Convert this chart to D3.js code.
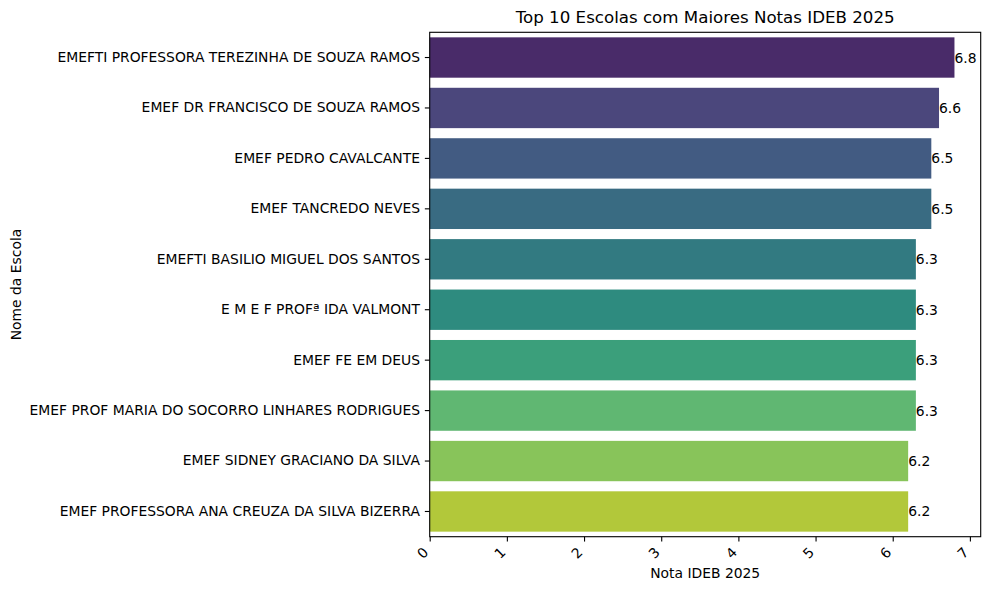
<!DOCTYPE html>
<html lang="en">
<head>
    <meta charset="UTF-8">
    <title>Top 10 Escolas IDEB 2025</title>
    <script src="https://d3js.org/d3.v7.min.js"></script>
    <style>
        body { margin: 0; background: #fff; overflow: hidden; }
        svg { display: block; }
        svg text { font-family: "DejaVu Sans", sans-serif; fill: #000; }
    </style>
</head>
<body>
    <div id="chart"></div>
    <script>
        const schools = [
            "EMEFTI PROFESSORA TEREZINHA DE SOUZA RAMOS",
            "EMEF DR FRANCISCO DE SOUZA RAMOS",
            "EMEF PEDRO CAVALCANTE",
            "EMEF TANCREDO NEVES",
            "EMEFTI BASILIO MIGUEL DOS SANTOS",
            "E M E F PROFª IDA VALMONT",
            "EMEF FE EM DEUS",
            "EMEF PROF MARIA DO SOCORRO LINHARES RODRIGUES",
            "EMEF SIDNEY GRACIANO DA SILVA",
            "EMEF PROFESSORA ANA CREUZA DA SILVA BIZERRA"
        ];
        const scores = [6.8, 6.6, 6.5, 6.5, 6.3, 6.3, 6.3, 6.3, 6.2, 6.2];
        const xTicks = [0, 1, 2, 3, 4, 5, 6, 7];

        const width = 989;
        const height = 590;
        const margin = { top: 32.3, right: 8.3, bottom: 53.3, left: 429.7 };
        const innerWidth = width - margin.left - margin.right;
        const innerHeight = height - margin.top - margin.bottom;
        const fs = "13.89px";
        const tick = 4.86;

        const data = schools.map((name, i) => ({ name, score: scores[i] }));

        // seaborn-style viridis palette, desaturated to 0.75
        const colors = schools.map((_, i) => {
            const c = d3.hsl(d3.interpolateViridis((i + 1) / (schools.length + 1)));
            c.s *= 0.75;
            return c.formatHex();
        });

        const x = d3.scaleLinear()
            .domain([0, d3.max(scores) * 1.05])
            .range([0, innerWidth]);

        const y = d3.scaleBand()
            .domain(schools)
            .range([0, innerHeight])
            .paddingInner(0.2)
            .paddingOuter(0.1);

        const svg = d3.select("#chart")
            .append("svg")
            .attr("width", width)
            .attr("height", height);

        const g = svg.append("g")
            .attr("transform", `translate(${margin.left}, ${margin.top})`);

        g.selectAll("rect.bar")
            .data(data)
            .join("rect")
            .attr("class", "bar")
            .attr("x", 0)
            .attr("y", d => y(d.name))
            .attr("width", d => x(d.score))
            .attr("height", y.bandwidth())
            .attr("fill", (d, i) => colors[i]);

        g.selectAll("text.value")
            .data(data)
            .join("text")
            .attr("class", "value")
            .attr("x", d => x(d.score))
            .attr("y", d => y(d.name) + y.bandwidth() / 2)
            .attr("dy", "0.36em")
            .attr("font-size", fs)
            .text(d => d.score.toFixed(1));

        // y axis
        const yAxis = g.append("g")
            .call(d3.axisLeft(y).tickSize(tick).tickPadding(tick));
        yAxis.select(".domain").remove();
        yAxis.selectAll(".tick line").attr("stroke", "#000").attr("stroke-width", 1.11);
        yAxis.selectAll(".tick text")
            .attr("font-size", fs)
            .attr("font-family", "DejaVu Sans, sans-serif");

        // x axis
        const xAxis = g.append("g")
            .attr("transform", `translate(0, ${innerHeight})`)
            .call(d3.axisBottom(x).tickValues(xTicks).tickFormat(d3.format("d")).tickSize(tick));
        xAxis.select(".domain").remove();
        xAxis.selectAll(".tick line").attr("stroke", "#000").attr("stroke-width", 1.11);
        xAxis.selectAll(".tick text")
            .attr("font-size", fs)
            .attr("font-family", "DejaVu Sans, sans-serif")
            .attr("text-anchor", "end")
            .attr("y", 0)
            .attr("dy", 0)
            .attr("transform", "translate(-1, 16.5) rotate(-45)");

        // frame
        g.append("rect")
            .attr("width", innerWidth)
            .attr("height", innerHeight)
            .attr("fill", "none")
            .attr("stroke", "#000")
            .attr("stroke-width", 1.11);

        svg.append("text")
            .attr("x", margin.left + innerWidth / 2)
            .attr("y", 23)
            .attr("text-anchor", "middle")
            .attr("font-size", "16.67px")
            .text("Top 10 Escolas com Maiores Notas IDEB 2025");

        svg.append("text")
            .attr("x", margin.left + innerWidth / 2)
            .attr("y", 578)
            .attr("text-anchor", "middle")
            .attr("font-size", fs)
            .text("Nota IDEB 2025");

        svg.append("text")
            .attr("transform", `translate(21, ${margin.top + innerHeight / 2}) rotate(-90)`)
            .attr("text-anchor", "middle")
            .attr("font-size", fs)
            .text("Nome da Escola");
    </script>
</body>
</html>
